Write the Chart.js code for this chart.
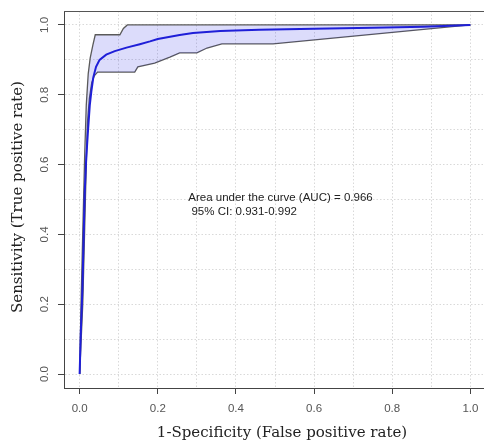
<!DOCTYPE html>
<html>
<head>
<meta charset="utf-8">
<script src="https://cdn.jsdelivr.net/npm/chart.js@4.4.1/dist/chart.umd.min.js"></script>
<style>
  html, body { margin: 0; padding: 0; background: #fff; overflow: hidden; }
  #wrap { width: 500px; height: 444px; }
</style>
</head>
<body>
<div id="wrap"><canvas id="canvRoc" width="500" height="444"></canvas></div>
<script>
// ROC curve, 1-specificity vs sensitivity
const rocFpr = [0, 0.003, 0.007, 0.01, 0.013, 0.017, 0.021, 0.026, 0.030, 0.035, 0.042, 0.051, 0.068, 0.09, 0.12, 0.154, 0.18, 0.2, 0.256, 0.29, 0.36, 0.46, 0.6, 0.75, 0.88, 1];
const rocTpr = [0, 0.12, 0.24, 0.38, 0.52, 0.62, 0.69, 0.77, 0.81, 0.85, 0.88, 0.9, 0.915, 0.925, 0.935, 0.945, 0.953, 0.96, 0.971, 0.977, 0.983, 0.986, 0.989, 0.992, 0.995, 1];

// 95% CI band - upper edge
const ciUpperFpr = [0, 0.004, 0.009, 0.013, 0.017, 0.022, 0.027, 0.034, 0.04, 0.103, 0.112, 0.122, 1];
const ciUpperTpr = [0, 0.22, 0.45, 0.63, 0.77, 0.86, 0.905, 0.943, 0.972, 0.972, 0.99, 1, 1];

// 95% CI band - lower edge
const ciLowerFpr = [0, 0.008, 0.013, 0.017, 0.02, 0.025, 0.031, 0.038, 0.046, 0.141, 0.149, 0.192, 0.231, 0.256, 0.30, 0.326, 0.364, 0.495, 1];
const ciLowerTpr = [0, 0.2, 0.42, 0.6, 0.72, 0.79, 0.835, 0.855, 0.865, 0.865, 0.88, 0.891, 0.908, 0.92, 0.92, 0.934, 0.946, 0.946, 1];

// grid every 0.1, labels every 0.2
const gridValues = [0, 0.1, 0.2, 0.3, 0.4, 0.5, 0.6, 0.7, 0.8, 0.9, 1.0];
const tickLabels = ['0.0', '0.2', '0.4', '0.6', '0.8', '1.0'];

const aucText = ['Area under the curve (AUC) = 0.966', ' 95% CI: 0.931-0.992'];
const xTitle = '1-Specificity (False positive rate)';
const yTitle = 'Sensitivity (True positive rate)';

const toPoints = (xs, ys) => xs.map((x, i) => ({x: x, y: ys[i]}));

const sansFont = '"Liberation Sans", Arial, sans-serif';

// extra drawing: top of box, rotated y labels, axis titles, AUC note
const rocExtras = {
    id: 'rocExtras',
    afterDraw(chart) {
        const {ctx, chartArea, scales} = chart;
        ctx.save();
        ctx.strokeStyle = '#555';
        ctx.lineWidth = 1;
        ctx.beginPath();
        ctx.moveTo(chartArea.left, chartArea.top + 0.5);
        ctx.lineTo(chartArea.right, chartArea.top + 0.5);
        ctx.stroke();

        ctx.fillStyle = '#555';
        ctx.font = '11.5px ' + sansFont;
        ctx.textAlign = 'center';
        ctx.textBaseline = 'middle';
        tickLabels.forEach((lbl, i) => {
            const y = scales.y.getPixelForValue(gridValues[i * 2]);
            ctx.save();
            ctx.translate(44.5, y);
            ctx.rotate(-Math.PI / 2);
            ctx.fillText(lbl, 0, 0);
            ctx.restore();
        });

        ctx.fillStyle = '#222';
        ctx.font = '15px "DejaVu Serif", serif';
        ctx.fillText(xTitle, 282, 433);
        ctx.save();
        ctx.translate(18, 197);
        ctx.rotate(-Math.PI / 2);
        ctx.fillText(yTitle, 0, 0);
        ctx.restore();

        ctx.textAlign = 'left';
        ctx.font = '11.5px ' + sansFont;
        ctx.fillText(aucText[0], scales.x.getPixelForValue(0.278), scales.y.getPixelForValue(0.504));
        ctx.fillText(aucText[1], scales.x.getPixelForValue(0.278), scales.y.getPixelForValue(0.464));
        ctx.restore();
    }
};

const gridOpts = {
    color: '#d9d9d9',
    lineWidth: 1,
    tickLength: 6,
    tickWidth: 1,
    tickColor: (c) => (c.index % 2 ? 'rgba(0,0,0,0)' : '#444')
};

const rocChart = new Chart(document.getElementById('canvRoc'), {
    type: 'line',
    data: {
        datasets: [
            {
                label: 'ROC',
                data: toPoints(rocFpr, rocTpr),
                borderColor: '#1f1fd8',
                borderWidth: 2,
                pointRadius: 0,
                tension: 0,
                fill: false
            },
            {
                label: 'CI upper',
                data: toPoints(ciUpperFpr, ciUpperTpr),
                borderColor: '#5a5a5a',
                borderWidth: 1.3,
                pointRadius: 0,
                tension: 0,
                fill: '+1',
                backgroundColor: 'rgba(40,40,230,0.16)'
            },
            {
                label: 'CI lower',
                data: toPoints(ciLowerFpr, ciLowerTpr),
                borderColor: '#5a5a5a',
                borderWidth: 1.3,
                pointRadius: 0,
                tension: 0,
                fill: false
            }
        ]
    },
    options: {
        responsive: false,
        animation: false,
        layout: {padding: {top: 11, right: 14, bottom: 0, left: 0}},
        plugins: {
            legend: {display: false},
            tooltip: {enabled: false}
        },
        scales: {
            x: {
                type: 'linear',
                min: -0.04,
                max: 1.04,
                afterBuildTicks: (scale) => { scale.ticks = gridValues.map(v => ({value: v})); },
                afterFit: (scale) => { scale.height = 56; },
                grid: gridOpts,
                border: {color: '#444', width: 1, dash: [1.5, 2]},
                ticks: {
                    autoSkip: false,
                    maxRotation: 0,
                    padding: 8,
                    color: '#555',
                    font: {family: sansFont, size: 11.5},
                    callback: (val, idx) => (idx % 2 ? '' : tickLabels[idx / 2])
                }
            },
            y: {
                type: 'linear',
                min: -0.04,
                max: 1.04,
                afterBuildTicks: (scale) => { scale.ticks = gridValues.map(v => ({value: v})); },
                afterFit: (scale) => { scale.width = 64; },
                grid: gridOpts,
                border: {color: '#444', width: 1, dash: [1.5, 2]},
                ticks: {display: false}
            }
        }
    },
    plugins: [rocExtras]
});
</script>
</body>
</html>
